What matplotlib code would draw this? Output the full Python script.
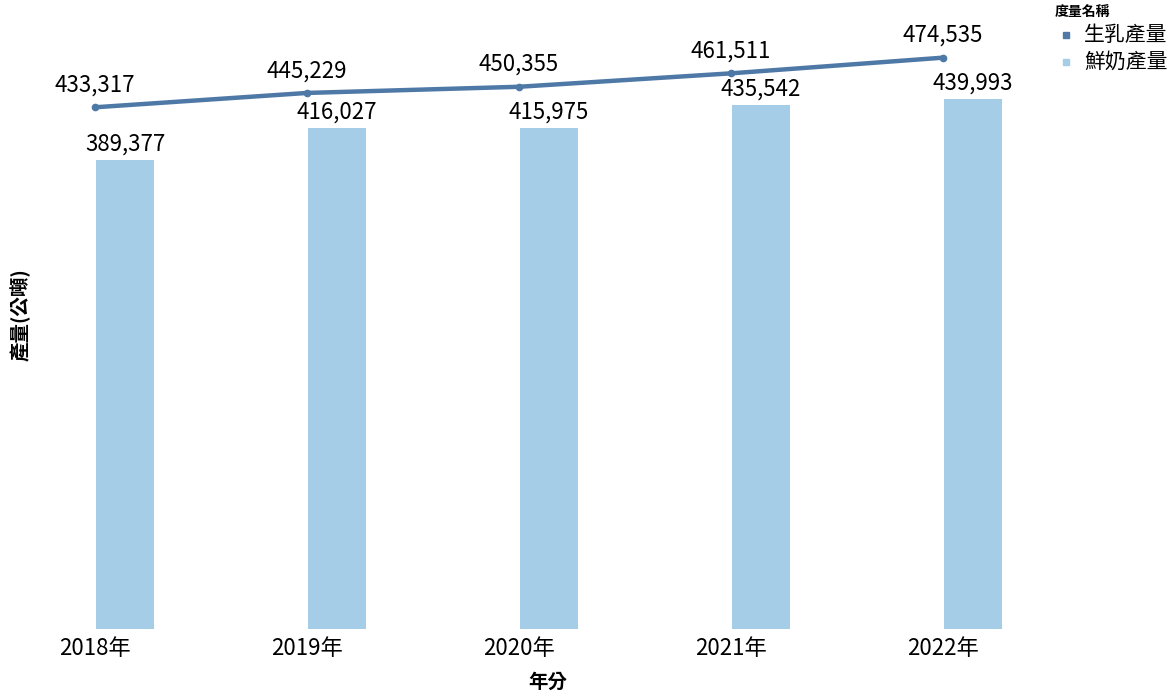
import matplotlib
matplotlib.use("Agg")
import matplotlib.pyplot as plt
from matplotlib.lines import Line2D
import numpy as np

plt.rcParams['font.family'] = ['Noto Sans CJK TC', 'DejaVu Sans']

years = ["2018年", "2019年", "2020年", "2021年", "2022年"]
raw_milk = [433317, 445229, 450355, 461511, 474535]
fresh_milk = [389377, 416027, 415975, 435542, 439993]
series_names = ["生乳產量", "鮮奶產量"]

line_color = "#4e79a7"
bar_color = "#a6cde8"

W, H = 1172, 700
fig = plt.figure(figsize=(W / 100, H / 100), dpi=100)
ax_left, ax_right = 20, 1040
ax_bottom, ax_top = 629, 27
ax = fig.add_axes([ax_left / W, (H - ax_bottom) / H,
                   (ax_right - ax_left) / W, (ax_bottom - ax_top) / H])

x = np.arange(len(years))
spacing = 212.0
x0 = (ax_left - 95) / spacing
x1 = (ax_right - 95) / spacing
ax.set_xlim(x0, x1)
ax.set_ylim(0, 500000)

bar_off = 0.142
bar_w = 0.275
ax.bar(x + bar_off, fresh_milk, width=bar_w, color=bar_color, zorder=2)
ax.plot(x, raw_milk, color=line_color, lw=3.2, marker='o', markersize=4.5,
        solid_capstyle='round', zorder=3)

for xi, v in zip(x, raw_milk):
    ax.annotate(f"{v:,}", (xi, v), xytext=(0, 16), textcoords="offset points",
                ha="center", va="center", fontsize=16, color="black")
for xi, v in zip(x, fresh_milk):
    ax.annotate(f"{v:,}", (xi + bar_off, v), xytext=(0, 11.5), textcoords="offset points",
                ha="center", va="center", fontsize=16, color="black")

ax.set_xticks(x)
ax.set_xticklabels(years, fontsize=16)
ax.tick_params(axis='x', length=0, pad=6)
ax.set_yticks([])
for s in ax.spines.values():
    s.set_visible(False)

fig.text(548 / W, 1 - 682 / H, "年分", ha="center", va="center", fontsize=14, fontweight="bold")
fig.text(20 / W, 1 - 315 / H, "產量(公噸)", ha="center", va="center", fontsize=14,
         fontweight="bold", rotation=90)

# legend drawn manually
fig.text(1055 / W, 1 - 12 / H, "度量名稱", ha="left", va="center", fontsize=10, fontweight="bold")
for name, col, yy in zip(series_names, [line_color, bar_color], [35, 62]):
    fig.add_artist(Line2D([1066 / W], [1 - yy / H], ls='none', marker='s', markersize=5,
                          color=col, transform=fig.transFigure))
    fig.text(1084 / W, 1 - yy / H, name, ha="left", va="center", fontsize=15)

fig.savefig("out.png", dpi=100)
